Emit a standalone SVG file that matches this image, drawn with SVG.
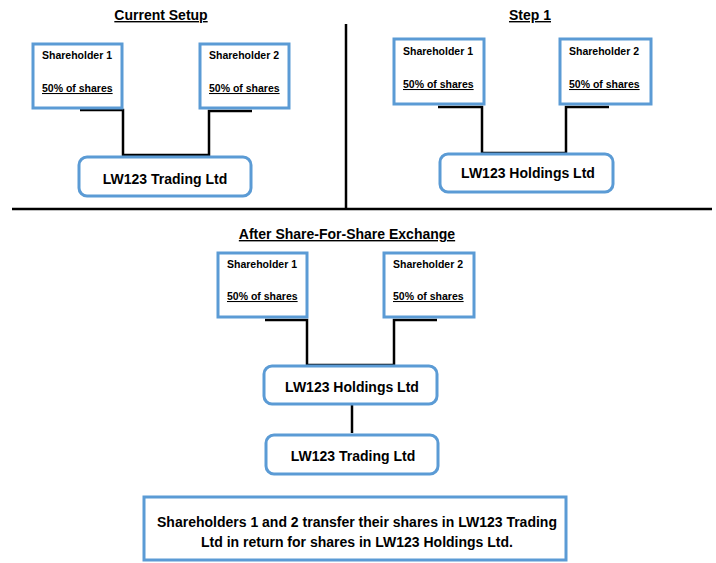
<svg xmlns="http://www.w3.org/2000/svg" width="716" height="563" viewBox="0 0 716 563">
<style>
text{font-family:"Liberation Sans",Arial,sans-serif;font-weight:bold;fill:#000}
.title{font-size:14px;text-decoration:underline;text-anchor:middle}
.sh{font-size:10.5px}
.u{text-decoration:underline}
.co{font-size:14px;text-anchor:middle}
.box{fill:#fff;stroke:#5B9BD5;stroke-width:3}
.ln{fill:none;stroke:#000;stroke-width:2.5}
</style>
<rect width="716" height="563" fill="#fff"/>
<g id="dividers">
<line class="ln" x1="346" y1="24" x2="346" y2="210"/>
<line class="ln" x1="12" y1="209" x2="712" y2="209"/>
</g>
<g id="titles">
<text class="title" x="161" y="20">Current Setup</text>
<text class="title" x="530" y="20">Step 1</text>
<text class="title" x="347" y="239">After Share-For-Share Exchange</text>
</g>
<g id="connectors">
<polyline class="ln" points="80,110 123,110 123,155 209,155 209,111 252,111"/>
<polyline class="ln" points="438,107 482,107 482,153 566,153 566,107 609,107"/>
<polyline class="ln" points="265,320 307,320 307,365 394,365 394,320 437,320"/>
<line class="ln" x1="352" y1="405" x2="352" y2="433"/>
</g>
<g id="cs-sh1">
<rect class="box" x="33" y="44" width="89" height="64"/>
<text class="sh" x="42" y="59">Shareholder 1</text>
<text class="sh u" x="42" y="92">50% of shares</text>
</g>
<g id="cs-sh2">
<rect class="box" x="200" y="44" width="89" height="64"/>
<text class="sh" x="209" y="59">Shareholder 2</text>
<text class="sh u" x="209" y="92">50% of shares</text>
</g>
<g id="cs-trading">
<rect class="box" x="79" y="157" width="172" height="39" rx="8"/>
<text class="co" x="165" y="184">LW123 Trading Ltd</text>
</g>
<g id="s1-sh1">
<rect class="box" x="394" y="39" width="90" height="65"/>
<text class="sh" x="403" y="55">Shareholder 1</text>
<text class="sh u" x="403" y="88">50% of shares</text>
</g>
<g id="s1-sh2">
<rect class="box" x="560" y="39" width="91" height="65"/>
<text class="sh" x="569" y="55">Shareholder 2</text>
<text class="sh u" x="569" y="88">50% of shares</text>
</g>
<g id="s1-holdings">
<rect class="box" x="440" y="154" width="173" height="38" rx="8"/>
<text class="co" x="528" y="178">LW123 Holdings Ltd</text>
</g>
<g id="af-sh1">
<rect class="box" x="218" y="253" width="89" height="64"/>
<text class="sh" x="227" y="268">Shareholder 1</text>
<text class="sh u" x="227" y="300">50% of shares</text>
</g>
<g id="af-sh2">
<rect class="box" x="384" y="253" width="90" height="64"/>
<text class="sh" x="393" y="268">Shareholder 2</text>
<text class="sh u" x="393" y="300">50% of shares</text>
</g>
<g id="af-holdings">
<rect class="box" x="264" y="366" width="173" height="38" rx="8"/>
<text class="co" x="352" y="392">LW123 Holdings Ltd</text>
</g>
<g id="af-trading">
<rect class="box" x="266" y="435" width="172" height="39" rx="8"/>
<text class="co" x="353" y="461">LW123 Trading Ltd</text>
</g>
<g id="note">
<rect class="box" x="144" y="497" width="422" height="63"/>
<text class="co" x="357" y="527">Shareholders 1 and 2 transfer their shares in LW123 Trading</text>
<text class="co" x="357" y="547">Ltd in return for shares in LW123 Holdings Ltd.</text>
</g>
</svg>
